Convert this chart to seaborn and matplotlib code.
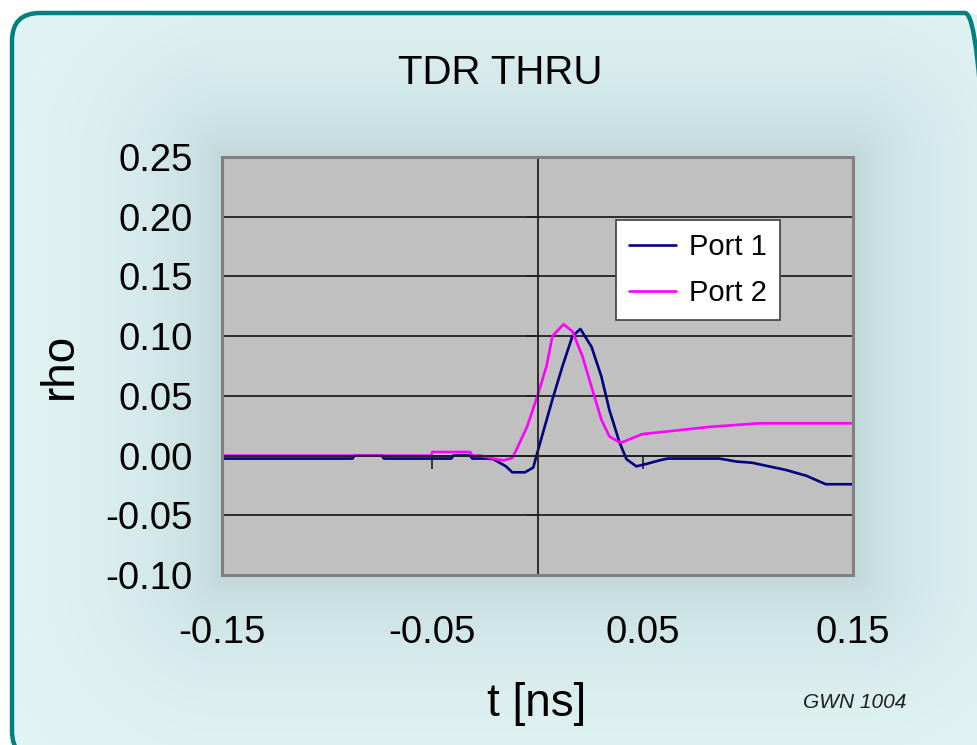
import numpy as np
import pandas as pd
import matplotlib
matplotlib.use('Agg')
import matplotlib.pyplot as plt
import seaborn as sns
from matplotlib.patches import FancyBboxPatch, Rectangle
from matplotlib.ticker import FormatStrFormatter
from matplotlib.transforms import IdentityTransform

# Values (time in ns, reflection coefficient)
port1_t = [-0.150, -0.088, -0.087, -0.074, -0.073, -0.041, -0.040, -0.032, -0.031,
           -0.024, -0.021, -0.015, -0.012, -0.006, -0.002, 0.000, 0.0071, 0.0119,
           0.0166, 0.0204, 0.0257, 0.0304, 0.0342, 0.039, 0.0423, 0.047, 0.0518,
           0.058, 0.0618, 0.0865, 0.0945, 0.102, 0.110, 0.118, 0.128, 0.137, 0.150]
port1_rho = [-0.0025, -0.0025, 0.0, 0.0, -0.0025, -0.0025, 0.0, 0.0, -0.0025,
             -0.0025, -0.003, -0.009, -0.014, -0.014, -0.010, 0.003, 0.047, 0.075,
             0.100, 0.106, 0.091, 0.066, 0.038, 0.011, -0.003, -0.009, -0.007,
             -0.004, -0.0025, -0.0025, -0.005, -0.006, -0.009, -0.012, -0.017, -0.024, -0.024]

port2_t = [-0.150, -0.0505, -0.050, -0.032, -0.031, -0.027, -0.020, -0.016, -0.012,
           -0.010, -0.005, 0.000, 0.0043, 0.0071, 0.0124, 0.0166, 0.0214, 0.0261,
           0.0304, 0.0342, 0.039, 0.040, 0.0499, 0.066, 0.0817, 0.105, 0.150]
port2_rho = [0.0, 0.0, 0.003, 0.003, 0.0, 0.0, -0.003, -0.004, -0.002,
             0.005, 0.024, 0.050, 0.075, 0.100, 0.110, 0.104, 0.083, 0.055,
             0.030, 0.016, 0.011, 0.011, 0.018, 0.021, 0.024, 0.027, 0.027]

x_ticks = [-0.15, -0.05, 0.05, 0.15]
y_ticks = [-0.10, -0.05, 0.00, 0.05, 0.10, 0.15, 0.20, 0.25]

df = pd.concat([
    pd.DataFrame({'t': port1_t, 'rho': port1_rho, 'Port': 'Port 1'}),
    pd.DataFrame({'t': port2_t, 'rho': port2_rho, 'Port': 'Port 2'}),
])

sns.set_theme(style='white')
plt.rcParams['font.family'] = ['Liberation Sans', 'DejaVu Sans']
plt.rcParams['axes.unicode_minus'] = False
for key in ['text.color', 'axes.labelcolor', 'xtick.color', 'ytick.color']:
    plt.rcParams[key] = 'black'

W, H = 977, 745
fig = plt.figure(figsize=(W / 100, H / 100), dpi=100)
fig.patch.set_facecolor('white')

# Background panel: rounded teal frame with a soft glow around the plot area
bg = fig.add_axes([0, 0, 1, 1], zorder=-10)
bg.set_xlim(0, W)
bg.set_ylim(H, 0)
bg.axis('off')
px, py = np.meshgrid(np.arange(W), np.arange(H))
dx = np.maximum(np.maximum(222 - px, px - 853), 0)
dy = np.maximum(np.maximum(157 - py, py - 575), 0)
d = np.hypot(dx, dy)
k = np.exp(-d / 90.0)
edge = np.array([0.89, 0.965, 0.965])
dark = np.array([0.76, 0.85, 0.855])
img = edge + (dark - edge) * k[..., None]
im = bg.imshow(img, extent=(0, W, H, 0), aspect='auto', zorder=0)
# frame in display pixels (y measured from the bottom); bottom/right run off the page
frame = FancyBboxPatch((12, -14), 981, (H - 13) + 14,
                       boxstyle='round,pad=0,rounding_size=28',
                       facecolor='none', edgecolor='#00807f', lw=3.2,
                       transform=IdentityTransform(), zorder=2)
fig.patches.append(frame)
frame.set_figure(fig)
im.set_clip_path(frame)

ax = fig.add_axes([222 / W, 1 - 575 / H, (853 - 222) / W, (575 - 157) / H])
ax.set_facecolor('#c0c0c0')

sns.lineplot(data=df, x='t', y='rho', hue='Port', estimator=None, sort=False,
             palette={'Port 1': '#000080', 'Port 2': '#ff00ff'}, lw=1.9, ax=ax)

ax.set_xlim(-0.15, 0.15)
ax.set_ylim(-0.10, 0.25)
ax.set_xticks(x_ticks)
ax.set_yticks(y_ticks)
ax.yaxis.grid(True, color='#202020', lw=1.3)
ax.xaxis.grid(False)

# Excel-like axes crossing at zero
ax.spines['left'].set_position(('data', 0))
ax.spines['bottom'].set_position(('data', 0))
for s in ['left', 'bottom']:
    ax.spines[s].set_color('#202020')
    ax.spines[s].set_linewidth(1.3)
for s in ['top', 'right']:
    ax.spines[s].set_visible(False)
ax.add_patch(Rectangle((0, 0), 1, 1, transform=ax.transAxes, fill=False,
                       edgecolor='#808080', lw=2.2, clip_on=False, zorder=5))
ax.tick_params(axis='both', which='major', direction='out', length=9, width=1.2,
               color='#202020', labelleft=False, labelbottom=False, left=True, bottom=True)

secx = ax.secondary_xaxis(0)
secx.set_xticks(x_ticks)
secx.xaxis.set_major_formatter(FormatStrFormatter('%.2f'))
secx.tick_params(length=0, pad=29, labelsize=27.5, labelcolor='black')
secx.spines['bottom'].set_visible(False)

secy = ax.secondary_yaxis(0)
secy.set_yticks(y_ticks)
secy.yaxis.set_major_formatter(FormatStrFormatter('%.2f'))
secy.tick_params(length=0, pad=21, labelsize=27.5, labelcolor='black')
secy.spines['left'].set_visible(False)

ax.set_xlabel('')
ax.set_ylabel('')
fig.text(537 / W, 1 - 704 / H, 't [ns]', fontsize=33, ha='center', va='center')
fig.text(60 / W, 1 - 366 / H, 'rho', fontsize=33, ha='center', va='center', rotation=90)
fig.text(500 / W, 1 - 73 / H, 'TDR THRU', fontsize=29, ha='center', va='center')
fig.text(855 / W, 1 - 703 / H, 'GWN 1004', fontsize=15, ha='center', va='center',
         style='italic', color='#202020')

leg = ax.legend(loc='upper left', bbox_to_anchor=(0.624, 0.849), fontsize=21,
                frameon=True, fancybox=False, edgecolor='#404040', framealpha=1,
                handlelength=1.6, handletextpad=0.45, borderpad=0.45, labelspacing=0.6,
                borderaxespad=0)
leg.get_frame().set_linewidth(1.2)
for line in leg.get_lines():
    line.set_linewidth(1.9)

fig.savefig('out.png', dpi=100)
